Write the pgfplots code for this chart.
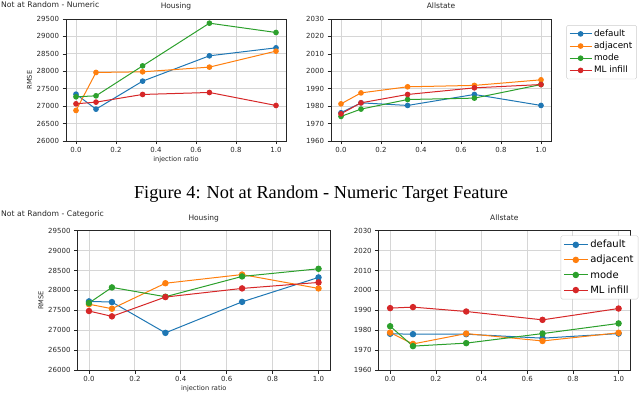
\documentclass[border=0pt]{standalone}
\usepackage{fontspec}
\setmainfont{DejaVu Sans}
\newfontfamily\capfont{Liberation Serif}
\usepackage{pgfplots}
\usepackage{pgfplotstable}
\pgfplotsset{compat=1.18}

\definecolor{c1}{HTML}{1F77B4}
\definecolor{c2}{HTML}{FF7F0E}
\definecolor{c3}{HTML}{2CA02C}
\definecolor{c4}{HTML}{D62728}

\pgfplotstableread{
x default adjacent mode ml
0     27344 26876 27268 27067
0.1   26914 27966 27296 27115
0.333 27717 27985 28155 27335
0.667 28444 28119 29380 27392
1.0   28673 28578 29113 27019
}\numhousing
\pgfplotstableread{
x default adjacent mode ml
0     1976.2 1981.3 1974.1 1975.6
0.1   1981.9 1987.6 1978.3 1981.9
0.333 1980.4 1991.1 1983.8 1986.7
0.667 1986.7 1991.9 1984.6 1990.5
1.0   1980.4 1995.1 1992.4 1992.4
}\numallstate
\pgfplotstableread{
x default adjacent mode ml
0     27724 27653 27683 27482
0.1   27707 27540 28075 27348
0.333 26933 28180 27841 27833
0.667 27712 28398 28351 28050
1.0   28326 28050 28543 28200
}\cathousing
\pgfplotstableread{
x default adjacent mode ml
0     1978.2 1978.8 1982.0 1991.1
0.1   1978.0 1973.1 1972.0 1991.6
0.333 1978.0 1978.3 1973.5 1989.4
0.667 1976.0 1974.6 1978.3 1985.2
1.0   1978.3 1978.7 1983.4 1990.9
}\catallstate

\pgfplotsset{
  myax/.style={
    scale only axis,
    xmin=-0.05, xmax=1.05,
    xtick={0,0.2,0.4,0.6,0.8,1.0},
    xticklabel={\pgfmathprintnumber[fixed,fixed zerofill,precision=1]{\tick}},
    scaled y ticks=false,
    yticklabel={\pgfmathprintnumber[fixed,precision=0,1000 sep={}]{\tick}},
    /pgf/number format/1000 sep={},
    /pgf/number format/assume math mode=true,
    grid=major,
    grid style={line width=0.8bp, color=black!16},
    axis line style={black!85, line width=0.6bp},
    tick style={black!85, line width=0.6bp},
    tick align=outside, tick pos=left,
    major tick length=3.5bp,
    ticklabel style={font=\fontsize{7bp}{8bp}\selectfont, text=black!85},
    xticklabel style={yshift=1bp},
    label style={font=\fontsize{6.6bp}{8bp}\selectfont, text=black!85},
    xlabel style={yshift=3bp},
    ylabel style={yshift=-2bp},
    title style={font=\fontsize{7.5bp}{9bp}\selectfont, at={(0.5,1)}, anchor=base, yshift=4.5bp, text=black!85},
    every axis plot/.append style={line width=1bp, mark=*, mark size=2.3bp},
    legend cell align=left,
  },
}

\begin{document}
\begin{tikzpicture}
\path[use as bounding box] (0bp,0bp) rectangle (640bp,393bp);

\node[anchor=base west, inner sep=0, font=\fontsize{7.7bp}{9bp}\selectfont, text=black!85] at (1bp,385bp) {Not at Random - Numeric};
\node[anchor=base west, inner sep=0, font=\fontsize{7.7bp}{9bp}\selectfont, text=black!85] at (1bp,176bp) {Not at Random - Categoric};
\node[anchor=base, inner sep=0, font=\capfont\fontsize{18.3bp}{20bp}\selectfont] at (321bp,194bp) {Figure 4: Not at Random - Numeric Target Feature};

% top-left
\begin{axis}[myax, at={(66bp,252bp)}, anchor=south west, width=220bp, height=122bp,
  ymin=26000, ymax=29500, ytick={26000,26500,...,29500},
  title={Housing}, xlabel={injection ratio}, ylabel={RMSE}]
\addplot[c1, mark options={fill=c1}] table[x=x,y=default] {\numhousing};
\addplot[c2, mark options={fill=c2}] table[x=x,y=adjacent] {\numhousing};
\addplot[c3, mark options={fill=c3}] table[x=x,y=mode] {\numhousing};
\addplot[c4, mark options={fill=c4}] table[x=x,y=ml] {\numhousing};
\end{axis}

% top-right
\begin{axis}[myax, at={(331bp,252bp)}, anchor=south west, width=220bp, height=122bp,
  ymin=1960, ymax=2030, ytick={1960,1970,...,2030},
  title={Allstate},
  legend style={at={(1.07,0.95)}, anchor=north west, draw=black!20, rounded corners=1.5bp,
    font=\fontsize{8.8bp}{10bp}\selectfont, row sep=0bp, inner sep=2.5bp},
  legend image code/.code={\draw[mark repeat=2,mark phase=2,#1] plot coordinates {(0bp,0bp) (11bp,0bp) (22bp,0bp)};}]
\addplot[c1, mark options={fill=c1}] table[x=x,y=default] {\numallstate};
\addplot[c2, mark options={fill=c2}] table[x=x,y=adjacent] {\numallstate};
\addplot[c3, mark options={fill=c3}] table[x=x,y=mode] {\numallstate};
\addplot[c4, mark options={fill=c4}] table[x=x,y=ml] {\numallstate};
\legend{default, adjacent, mode, ML infill}
\end{axis}

% bottom-left
\begin{axis}[myax, at={(77.5bp,23bp)}, anchor=south west, width=252.5bp, height=139.3bp,
  ymin=26000, ymax=29500, ytick={26000,26500,...,29500},
  every axis plot/.append style={mark size=2.7bp},
  title={Housing}, xlabel={injection ratio}, ylabel={RMSE}]
\addplot[c1, mark options={fill=c1}] table[x=x,y=default] {\cathousing};
\addplot[c2, mark options={fill=c2}] table[x=x,y=adjacent] {\cathousing};
\addplot[c3, mark options={fill=c3}] table[x=x,y=mode] {\cathousing};
\addplot[c4, mark options={fill=c4}] table[x=x,y=ml] {\cathousing};
\end{axis}

% bottom-right
\begin{axis}[myax, at={(378.7bp,23bp)}, anchor=south west, width=251.3bp, height=139.3bp,
  ymin=1960, ymax=2030, ytick={1960,1970,...,2030},
  every axis plot/.append style={mark size=2.7bp},
  title={Allstate},
  legend style={at={(1.033,0.965)}, anchor=north east, draw=black!20, rounded corners=1.5bp,
    font=\fontsize{10bp}{11bp}\selectfont, row sep=2bp, inner sep=2.5bp},
  legend image code/.code={\draw[mark repeat=2,mark phase=2,#1] plot coordinates {(0bp,0bp) (12bp,0bp) (24bp,0bp)};}]
\addplot[c1, mark options={fill=c1}] table[x=x,y=default] {\catallstate};
\addplot[c2, mark options={fill=c2}] table[x=x,y=adjacent] {\catallstate};
\addplot[c3, mark options={fill=c3}] table[x=x,y=mode] {\catallstate};
\addplot[c4, mark options={fill=c4}] table[x=x,y=ml] {\catallstate};
\legend{default, adjacent, mode, ML infill}
\end{axis}
\end{tikzpicture}
\end{document}
